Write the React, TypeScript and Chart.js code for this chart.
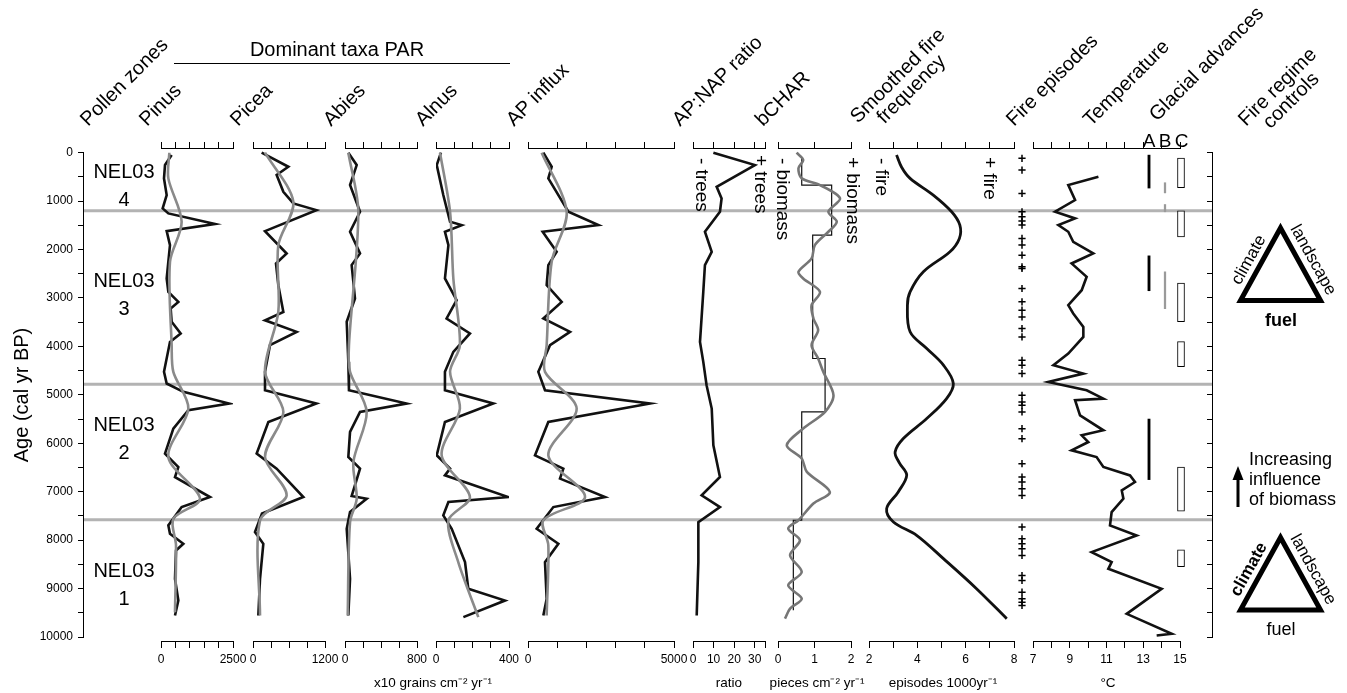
import React, { useEffect, useRef } from 'react';
import { Chart, registerables } from 'chart.js';

Chart.register(...registerables);

const FONT = "'Liberation Sans', Arial, Helvetica, sans-serif";
Chart.defaults.font.family = FONT;
Chart.defaults.color = '#000';

type Pair = [number, number];

// ---------------- DATA  ([age cal yr BP, value]) ----------------
const pinus: Pair[] = [[48,370],[255,139],[530,104],[875,197],[1150,58],[1254,255],[1474,1875],[1619,197],[1908,312],[2597,197],[2873,255],[3080,602],[3218,336],[3492,370],[3733,683],[3906,312],[4525,104],[4766,197],[4938,775],[5180,2372],[5318,949],[5697,428],[6214,139],[6490,602],[6697,486],[7110,1701],[7317,717],[7696,255],[7868,312],[8075,775],[8213,521],[8799,486],[9247,602],[9556,486]];
const pinusSmooth: Pair[] = [[0,289],[530,255],[1426,717],[2253,312],[3974,370],[4525,428],[5283,949],[6283,255],[7144,1354],[7558,428],[8105,521],[9487,486]];

const picea: Pair[] = [[0,144],[290,589],[460,394],[806,506],[1047,672],[1185,1056],[1619,200],[2081,561],[2287,383],[2735,422],[3287,506],[3460,200],[3700,728],[3975,283],[4525,200],[4905,200],[5180,1056],[5560,256],[6214,61],[6525,394],[7110,839],[7450,150],[7834,33],[8075,172],[8798,117],[9556,89]];
const piceaSmooth: Pair[] = [[0,200],[1013,672],[1908,422],[3287,422],[4525,200],[5352,506],[6283,200],[7075,561],[7592,117],[9556,117]];

const abies: Pair[] = [[0,37],[255,130],[668,56],[1219,167],[1632,56],[2080,167],[2321,74],[3010,111],[3492,19],[4318,37],[4904,44],[5180,685],[5352,167],[5765,56],[6283,37],[6524,167],[7090,74],[7145,241],[7420,56],[7765,19],[8798,56],[9556,37]];
const abiesSmooth: Pair[] = [[0,37],[1219,148],[3974,44],[4525,56],[5352,241],[6386,93],[7145,130],[7627,56],[9556,30]];

const alnus: Pair[] = [[0,27],[255,4],[875,40],[1426,77],[1495,141],[1632,49],[1908,68],[2597,49],[3044,113],[3423,58],[3733,186],[4112,95],[4525,49],[4905,49],[5180,314],[5560,49],[6248,4],[6524,77],[6662,49],[7110,396],[7213,68],[7489,40],[7765,86],[8454,159],[9005,177],[9247,378],[9590,150]];
const alnusSmooth: Pair[] = [[0,22],[1219,77],[2597,95],[3974,131],[4525,77],[5283,131],[6248,31],[7110,186],[7589,68],[8454,122],[9590,232]];

const apInflux: Pair[] = [[0,525],[290,811],[530,696],[1219,1382],[1495,2410],[1632,502],[2046,982],[2321,696],[2735,639],[3080,1154],[3423,525],[3700,1439],[3975,754],[4525,354],[4905,582],[5180,4180],[5560,696],[6249,240],[6524,1210],[6729,1096],[7110,2638],[7317,868],[7765,297],[8075,1039],[8454,582],[9213,639],[9556,525]];
const apInfluxSmooth: Pair[] = [[0,468],[1219,1325],[2252,811],[3974,639],[4525,582],[5283,1667],[6249,696],[7110,1953],[7589,525],[8105,696],[9556,639]];

const apNapRatio: Pair[] = [[0,9.9],[255,30.1],[703,11.5],[944,13.9],[1219,13.1],[1632,5.8],[2046,9.1],[2321,5.8],[2873,5.0],[3906,3.4],[4319,5.0],[4801,6.6],[5283,9.1],[6042,9.9],[6697,13.1],[7075,4.2],[7317,13.1],[7627,2.6],[8454,2.6],[9556,1.8]];

const bcharStep: Pair[] = [[100,0.65],[668,0.65],[668,1.47],[1701,1.47],[1701,0.95],[4249,0.95],[4249,1.29],[5351,1.29],[5351,0.65],[7589,0.65],[7589,0.42],[9450,0.42]];
const bcharGray: Pair[] = [[0,0.51],[150,0.69],[324,0.56],[530,0.65],[668,1.15],[944,1.70],[1219,1.38],[1426,1.61],[1632,1.38],[1908,1.01],[2183,0.92],[2459,0.56],[2597,0.69],[2873,1.15],[3148,0.92],[3423,0.97],[3664,1.10],[3974,0.92],[4249,1.10],[4525,1.24],[5007,1.52],[5351,1.29],[5696,0.69],[6040,0.24],[6315,0.65],[6591,0.79],[7004,1.42],[7245,0.97],[7589,0.56],[7762,0.28],[8003,0.60],[8313,0.33],[8657,0.65],[8933,0.28],[9208,0.65],[9415,0.33],[9621,0.19]];

const smoothedFire: Pair[] = [[48,3.14],[300,3.35],[530,3.70],[875,4.66],[1219,5.42],[1495,5.76],[1770,5.74],[2046,5.35],[2459,4.25],[2873,3.70],[3148,3.59],[3698,3.70],[4043,4.39],[4387,5.08],[4766,5.49],[5076,5.21],[5489,4.39],[5902,3.42],[6178,3.08],[6400,3.25],[6660,3.56],[7004,3.21],[7349,2.73],[7624,3.01],[7900,3.97],[8382,5.08],[9002,6.45],[9622,7.70]];

const fireEpisodes: number[] = [117,358,841,1219,1323,1412,1495,1771,1908,2115,2356,2391,2804,3080,3252,3390,3631,3803,4286,4389,4561,5009,5147,5216,5353,5698,5905,6421,6697,6800,6938,7076,7731,7972,8075,8178,8316,8730,8833,9074,9212,9281,9350];

const temperature: Pair[] = [[496,10.56],[668,8.92],[978,9.29],[1219,8.20],[1357,9.29],[1495,8.38],[1633,8.92],[1840,9.19],[2081,10.28],[2287,9.10],[2563,9.92],[2839,9.65],[3149,8.92],[3321,9.19],[3597,9.74],[3803,9.74],[4148,8.92],[4389,8.11],[4561,9.74],[4733,7.83],[4906,9.92],[5078,10.83],[5112,9.29],[5422,9.56],[5732,10.83],[5836,9.65],[5974,10.01],[6146,9.10],[6284,10.46],[6490,10.83],[6663,12.28],[6800,12.55],[6973,11.83],[7145,11.92],[7420,11.28],[7696,11.19],[7903,12.64],[8247,10.19],[8454,11.28],[8592,11.10],[9005,14.00],[9522,12.10],[9935,14.55],[9970,13.73]];

const glacialLabels = ['A', 'B', 'C'];
const glacialA: Pair[] = [[50,730],[2130,2850],[5500,6750]];
const glacialB: Pair[] = [[620,830],[1070,1220],[2460,3220]];
const glacialC: Pair[] = [[110,720],[1200,1740],[2690,3490],[3900,4420],[6490,7400],[8200,8550]];

const zoneBoundaries = [1200, 4780, 7580];
const zoneNames = ['4', '3', '2', '1'];
const zoneCentres = [690, 2940, 5915, 8930];

// tick labels shown on the bottom axes
const pinusTicks = [0, 2500];
const piceaTicks = [0, 1200];
const abiesTicks = [0, 800];
const alnusTicks = [0, 400];
const influxTicks = [0, 5000];
const ratioTicks = [0, 10, 20, 30];
const bcharTicks = [0, 1, 2];
const fireTicks = [2, 4, 6, 8];
const tempTicks = [7, 9, 11, 13, 15];
const ageTicks = [0, 1000, 2000, 3000, 4000, 5000, 6000, 7000, 8000, 9000, 10000];

// ---------------- GEOMETRY ----------------
const W = 1347, H = 693;
const AREA_TOP = 148, AREA_BOTTOM = 641;
const Y0 = 152.7, Y10K = 637;
const K = (Y10K - Y0) / 10000;
const Y_MIN = -(Y0 - AREA_TOP) / K;
const Y_MAX = 10000 + (AREA_BOTTOM - Y10K) / K;
const PAD = 30;
const BLACK = '#111';
const GREY = '#8a8a8a';

const toPts = (arr: Pair[]) => arr.map(([age, v]) => ({ x: v, y: age }));
const blackLine = (arr: Pair[], width = 2.6) => ({ data: toPts(arr), showLine: true, borderColor: BLACK, borderWidth: width, pointRadius: 0, tension: 0, order: 1 });
const greyLine = (arr: Pair[], tension = 0.3, width = 2.6, color = GREY) => ({ data: toPts(arr), showLine: true, borderColor: color, borderWidth: width, pointRadius: 0, tension, order: 0 });

type PanelSpec = { name: string; left: number; right: number; min: number; max: number; step: number; labels: number[]; sets: () => any[] };

const PANELS: PanelSpec[] = [
  { name: 'pinus', left: 161, right: 233, min: 0, max: 2500, step: 500, labels: pinusTicks, sets: () => [greyLine(pinusSmooth), blackLine(pinus)] },
  { name: 'picea', left: 253, right: 325, min: 0, max: 1200, step: 300, labels: piceaTicks, sets: () => [greyLine(piceaSmooth), blackLine(picea)] },
  { name: 'abies', left: 345, right: 417, min: 0, max: 800, step: 200, labels: abiesTicks, sets: () => [greyLine(abiesSmooth), blackLine(abies)] },
  { name: 'alnus', left: 436, right: 509, min: 0, max: 400, step: 100, labels: alnusTicks, sets: () => [greyLine(alnusSmooth), blackLine(alnus)] },
  { name: 'influx', left: 528, right: 674, min: 0, max: 5000, step: 1000, labels: influxTicks, sets: () => [greyLine(apInfluxSmooth), blackLine(apInflux)] },
  { name: 'ratio', left: 693, right: 765, min: 0, max: 35, step: 10, labels: ratioTicks, sets: () => [blackLine(apNapRatio)] },
  { name: 'bchar', left: 778, right: 851, min: 0, max: 2, step: 1, labels: bcharTicks, sets: () => [greyLine(bcharGray, 0.3, 2.6, '#767676'), blackLine(bcharStep, 1.2)] },
  { name: 'fire', left: 869, right: 1014, min: 2, max: 8, step: 1, labels: fireTicks, sets: () => [{ ...blackLine(smoothedFire, 2.8), tension: 0.35 }] },
  { name: 'temp', left: 1033, right: 1180, min: 7, max: 15, step: 1, labels: tempTicks, sets: () => [blackLine(temperature)] },
];

const baseOptions = (padding: any) => ({
  animation: false,
  responsive: false,
  devicePixelRatio: 1,
  events: [],
  layout: { padding },
  plugins: { legend: { display: false }, tooltip: { enabled: false }, title: { display: false } },
});

function panelConfig(p: PanelSpec) {
  const grid = { drawOnChartArea: false, drawTicks: true, color: '#000', lineWidth: 1 };
  const border = { display: true, color: '#000', width: 1 };
  const setTicks = (s: any) => {
    const t: any[] = [];
    for (let i = 0; p.min + i * p.step <= p.max + 1e-9; i++) t.push({ value: +(p.min + i * p.step).toFixed(6) });
    if (t[t.length - 1].value < p.max - 1e-9) t.push({ value: p.max });
    s.ticks = t;
  };
  return {
    type: 'scatter',
    data: { datasets: p.sets() },
    options: {
      ...baseOptions({ left: PAD, right: PAD, top: AREA_TOP - 8, bottom: H - AREA_BOTTOM - 30 }),
      scales: {
        x: {
          type: 'linear', position: 'bottom', min: p.min, max: p.max,
          grid: { ...grid, tickLength: 7 }, border,
          ticks: {
            autoSkip: false, maxRotation: 0, minRotation: 0, padding: 4,
            color: '#000', font: { family: FONT, size: 12 },
            callback: (v: number) => (p.labels.includes(v) ? String(v) : ''),
          },
          afterBuildTicks: setTicks,
          afterFit: (s: any) => { s.height = 30; },
        },
        xTop: {
          type: 'linear', position: 'top', min: p.min, max: p.max,
          grid: { ...grid, tickLength: 6 }, border,
          ticks: { display: false, autoSkip: false },
          afterBuildTicks: setTicks,
          afterFit: (s: any) => { s.height = 8; },
        },
        y: { type: 'linear', min: Y_MIN, max: Y_MAX, reverse: true, display: false },
      },
    },
  };
}

function episodesConfig() {
  return {
    type: 'scatter',
    data: {
      datasets: [{
        data: fireEpisodes.map((a) => ({ x: 0.5, y: a })),
        showLine: false, pointStyle: 'cross', pointRadius: 3.6, pointBorderWidth: 1.5,
        borderColor: '#000', pointBorderColor: '#000', borderWidth: 1.5, clip: false,
      }],
    },
    options: {
      ...baseOptions({ left: 0, right: 0, top: AREA_TOP, bottom: H - AREA_BOTTOM }),
      scales: {
        x: { type: 'linear', min: 0, max: 1, display: false },
        y: { type: 'linear', min: Y_MIN, max: Y_MAX, reverse: true, display: false },
      },
    },
  };
}

function glacialConfig() {
  const mk = (ranges: Pair[], idx: number, st: any) => ranges.map((r) => {
    const data: any[] = [null, null, null];
    data[idx] = [r[0], r[1]];
    return { data, grouped: false, barThickness: st.t, backgroundColor: st.bg, borderColor: st.bc, borderWidth: st.bw, borderSkipped: false };
  });
  return {
    type: 'bar',
    data: {
      labels: glacialLabels,
      datasets: [
        ...mk(glacialA, 0, { t: 2.2, bg: '#000', bc: '#000', bw: 0 }),
        ...mk(glacialB, 1, { t: 1.6, bg: '#9a9a9a', bc: '#9a9a9a', bw: 0 }),
        ...mk(glacialC, 2, { t: 7, bg: '#fff', bc: '#000', bw: 1 }),
      ],
    },
    options: {
      ...baseOptions({ left: 0, right: 0, top: AREA_TOP, bottom: H - AREA_BOTTOM }),
      scales: {
        x: { type: 'category', display: false },
        y: { type: 'linear', min: Y_MIN, max: Y_MAX, reverse: true, display: false },
      },
    },
  };
}

function regimeConfig() {
  return {
    type: 'scatter',
    data: { datasets: [] },
    options: {
      ...baseOptions({ left: 0, right: 0, top: Y0, bottom: H - Y10K }),
      scales: {
        x: { type: 'linear', min: 0, max: 1, display: false },
        y: {
          type: 'linear', position: 'left', min: 0, max: 10000, reverse: true,
          ticks: { display: false, stepSize: 500, autoSkip: false },
          grid: { drawOnChartArea: false, drawTicks: true, tickLength: 5, color: '#000' },
          border: { display: true, color: '#000', width: 1 },
          afterFit: (s: any) => { s.width = 62; },
        },
      },
    },
  };
}

// ---------------- annotations (background chart) ----------------
const headers = [
  { lines: ['Pollen zones'], x: 88, y: 127 },
  { lines: ['Pinus'], x: 147, y: 127 },
  { lines: ['Picea'], x: 238, y: 127 },
  { lines: ['Abies'], x: 331, y: 127 },
  { lines: ['Alnus'], x: 423, y: 127 },
  { lines: ['AP influx'], x: 514, y: 127 },
  { lines: ['AP:NAP ratio'], x: 680, y: 127 },
  { lines: ['bCHAR'], x: 763, y: 127 },
  { lines: ['Smoothed fire', 'frequency'], x: 858, y: 124 },
  { lines: ['Fire episodes'], x: 1014, y: 127 },
  { lines: ['Temperature'], x: 1091, y: 127 },
  { lines: ['Glacial advances'], x: 1157, y: 122 },
  { lines: ['Fire regime', 'controls'], x: 1246, y: 127 },
];

const sideLabels = [
  { t: '- trees', x: 701, y: 158 },
  { t: '+ trees', x: 760, y: 155 },
  { t: '- biomass', x: 782, y: 158 },
  { t: '+ biomass', x: 852, y: 157 },
  { t: '- fire', x: 881, y: 158 },
  { t: '+ fire', x: 989, y: 157 },
];

const units = [
  { t: 'x10 grains cm\u207B\u00B2 yr\u207B\u00B9', x: 433 },
  { t: 'ratio', x: 729 },
  { t: 'pieces cm\u207B\u00B2 yr\u207B\u00B9', x: 817 },
  { t: 'episodes 1000yr\u207B\u00B9', x: 943 },
  { t: '\u00B0C', x: 1108 },
];

function drawTriangle(ctx: CanvasRenderingContext2D, dy: number, boldClimate: boolean, boldFuel: boolean) {
  ctx.save();
  ctx.beginPath();
  ctx.moveTo(1280.5, 228 + dy);
  ctx.lineTo(1320.5, 300.5 + dy);
  ctx.lineTo(1240.5, 300.5 + dy);
  ctx.closePath();
  ctx.lineWidth = 5;
  ctx.lineJoin = 'miter';
  ctx.strokeStyle = '#000';
  ctx.stroke();
  ctx.fillStyle = '#000';
  ctx.textAlign = 'center';
  ctx.textBaseline = 'middle';
  ctx.save();
  ctx.translate(1249, 260 + dy);
  ctx.rotate((-61 * Math.PI) / 180);
  ctx.font = `${boldClimate ? 'bold ' : ''}17px ${FONT}`;
  ctx.fillText('climate', 0, 0);
  ctx.restore();
  ctx.save();
  ctx.translate(1313, 260 + dy);
  ctx.rotate((61 * Math.PI) / 180);
  ctx.font = `17px ${FONT}`;
  ctx.fillText('landscape', 0, 0);
  ctx.restore();
  ctx.font = `${boldFuel ? 'bold ' : ''}18px ${FONT}`;
  ctx.fillText('fuel', 1281, 321 + dy);
  ctx.restore();
}

const bgPlugin = {
  id: 'bgAnnotations',
  afterDraw(chart: any) {
    const ctx: CanvasRenderingContext2D = chart.ctx;
    const ys = chart.scales.y;
    ctx.save();
    // pollen zone boundaries
    ctx.strokeStyle = '#b3b3b3';
    ctx.lineWidth = 3;
    zoneBoundaries.forEach((b) => {
      const y = ys.getPixelForValue(b);
      ctx.beginPath();
      ctx.moveTo(84, y);
      ctx.lineTo(1212, y);
      ctx.stroke();
    });
    // zone names
    ctx.fillStyle = '#000';
    ctx.textAlign = 'center';
    ctx.textBaseline = 'middle';
    ctx.font = `20px ${FONT}`;
    zoneNames.forEach((n, i) => {
      const y = ys.getPixelForValue(zoneCentres[i]);
      ctx.fillText('NEL03', 124, y - 14);
      ctx.fillText(n, 124, y + 14);
    });
    // y title
    ctx.save();
    ctx.translate(22, 395);
    ctx.rotate(-Math.PI / 2);
    ctx.font = `20px ${FONT}`;
    ctx.fillText('Age (cal yr BP)', 0, 0);
    ctx.restore();
    // rotated headers
    ctx.font = `20px ${FONT}`;
    headers.forEach((h) => {
      ctx.save();
      ctx.translate(h.x, h.y);
      ctx.rotate(-Math.PI / 4);
      ctx.textAlign = 'left';
      ctx.textBaseline = 'alphabetic';
      const w0 = ctx.measureText(h.lines[0]).width;
      h.lines.forEach((t, i) => {
        const w = ctx.measureText(t).width;
        ctx.fillText(t, (w0 - w) / 2, i * 19);
      });
      ctx.restore();
    });
    // group title
    ctx.textAlign = 'center';
    ctx.textBaseline = 'alphabetic';
    ctx.fillText('Dominant taxa PAR', 337, 56);
    ctx.strokeStyle = '#000';
    ctx.lineWidth = 1;
    ctx.beginPath();
    ctx.moveTo(174, 63.5);
    ctx.lineTo(510, 63.5);
    ctx.stroke();
    // A B C
    ctx.font = `19px ${FONT}`;
    ctx.fillText('A', 1149, 147);
    ctx.fillText('B', 1165, 147);
    ctx.fillText('C', 1181.5, 147);
    // +/- labels
    ctx.font = `19px ${FONT}`;
    sideLabels.forEach((s) => {
      ctx.save();
      ctx.translate(s.x, s.y);
      ctx.rotate(Math.PI / 2);
      ctx.textAlign = 'left';
      ctx.textBaseline = 'middle';
      ctx.fillText(s.t, 0, 0);
      ctx.restore();
    });
    // units
    ctx.font = `13.5px ${FONT}`;
    ctx.textAlign = 'center';
    ctx.textBaseline = 'middle';
    units.forEach((u) => ctx.fillText(u.t, u.x, 683));
    // fire regime controls
    drawTriangle(ctx, 0, false, true);
    drawTriangle(ctx, 309.5, true, false);
    ctx.fillStyle = '#000';
    ctx.fillRect(1236.5, 478, 3, 29);
    ctx.beginPath();
    ctx.moveTo(1238, 466);
    ctx.lineTo(1243.5, 480);
    ctx.lineTo(1232.5, 480);
    ctx.closePath();
    ctx.fill();
    ctx.font = `18px ${FONT}`;
    ctx.textAlign = 'left';
    ctx.textBaseline = 'middle';
    ctx.fillText('Increasing', 1249, 460);
    ctx.fillText('influence', 1249, 480);
    ctx.fillText('of biomass', 1249, 500);
    ctx.restore();
  },
};

function bgConfig() {
  return {
    type: 'scatter',
    data: { datasets: [] },
    options: {
      ...baseOptions({ left: 0, right: W - 1212, top: Y0, bottom: H - Y10K }),
      scales: {
        x: { type: 'linear', min: 0, max: 1, display: false },
        y: {
          type: 'linear', position: 'left', min: 0, max: 10000, reverse: true,
          ticks: {
            stepSize: 500, autoSkip: false, padding: 5, color: '#000', font: { family: FONT, size: 12 },
            callback: (v: number) => (ageTicks.includes(v) ? String(v) : ''),
          },
          grid: { drawOnChartArea: false, drawTicks: true, tickLength: 5, color: '#000' },
          border: { display: true, color: '#000', width: 1 },
          afterFit: (s: any) => { s.width = 83; },
        },
      },
    },
    plugins: [bgPlugin],
  };
}

const SPECS = [
  { key: 'bg', left: 0, width: W, build: bgConfig },
  ...PANELS.map((p) => ({ key: p.name, left: p.left - PAD, width: p.right - p.left + 2 * PAD, build: () => panelConfig(p) })),
  { key: 'episodes', left: 1012, width: 20, build: episodesConfig },
  { key: 'glacial', left: 1141, width: 48, build: glacialConfig },
  { key: 'regime', left: 1150, width: 70, build: regimeConfig },
];

export default function App() {
  const refs = useRef<(HTMLCanvasElement | null)[]>([]);
  useEffect(() => {
    const charts = SPECS.map((s, i) => new Chart(refs.current[i] as HTMLCanvasElement, s.build() as any));
    return () => charts.forEach((c) => c.destroy());
  }, []);
  return (
    <div style={{ position: 'absolute', left: 0, top: 0, width: W, height: H, overflow: 'hidden', background: '#fff' }}>
      {SPECS.map((s, i) => (
        <canvas
          key={s.key}
          ref={(el) => { refs.current[i] = el; }}
          width={s.width}
          height={H}
          style={{ position: 'absolute', left: s.left, top: 0, width: s.width, height: H }}
        />
      ))}
    </div>
  );
}
